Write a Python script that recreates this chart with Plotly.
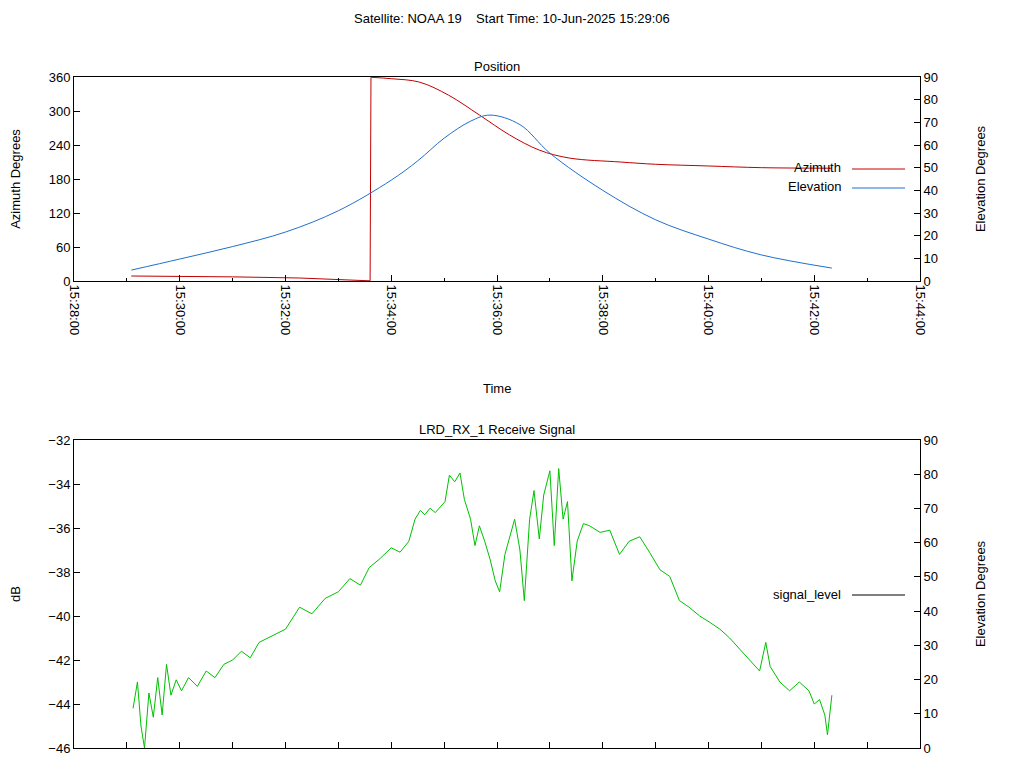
import plotly.graph_objects as go

day = "2025-06-10 "

# position data
az_time = ["15:29:05", "15:30:00", "15:31:00", "15:32:16", "15:33:00", "15:33:36",
           "15:33:37", "15:34:00", "15:34:32", "15:35:05", "15:35:40", "15:36:14",
           "15:36:48", "15:37:22", "15:38:20", "15:39:00", "15:40:00", "15:41:00",
           "15:42:20"]
az_deg = [8.8, 8.2, 7.3, 5.3, 2.5, 0.3,
          359.5, 357, 351, 328, 293, 258,
          231, 217, 210, 206, 203, 200, 199]
az_wrap = 6  # index of the first sample after the 0/360 wrap

el_time = ["15:29:05", "15:30:00", "15:31:00", "15:32:00", "15:33:00", "15:34:00",
           "15:34:30", "15:35:00", "15:35:30", "15:35:52", "15:36:26", "15:37:00",
           "15:38:00", "15:39:00", "15:40:00", "15:41:00", "15:42:20"]
el_deg = [4.8, 9.7, 15.2, 21.6, 31, 44.5,
          53, 63, 70.5, 73.2, 69, 56.4,
          40, 27, 18.5, 11.5, 5.7]

# receive signal data
sig_time = ["15:29:07", "15:29:12", "15:29:16", "15:29:20", "15:29:25", "15:29:30",
            "15:29:35", "15:29:40", "15:29:45", "15:29:50", "15:29:56", "15:30:02",
            "15:30:10", "15:30:20", "15:30:30", "15:30:40", "15:30:50", "15:31:00",
            "15:31:10", "15:31:20", "15:31:30", "15:31:40", "15:31:50", "15:32:00",
            "15:32:16", "15:32:30", "15:32:45", "15:33:00", "15:33:13", "15:33:25",
            "15:33:35", "15:33:47", "15:34:00", "15:34:10", "15:34:20", "15:34:27",
            "15:34:33", "15:34:38", "15:34:44", "15:34:50", "15:35:01", "15:35:06",
            "15:35:12", "15:35:18", "15:35:23", "15:35:30", "15:35:35", "15:35:40",
            "15:35:46", "15:35:52", "15:35:58", "15:36:03", "15:36:09", "15:36:14",
            "15:36:20", "15:36:26", "15:36:31", "15:36:37", "15:36:42", "15:36:48",
            "15:36:53", "15:37:00", "15:37:05", "15:37:10", "15:37:15", "15:37:20",
            "15:37:25", "15:37:31", "15:37:38", "15:37:45", "15:37:57", "15:38:08",
            "15:38:19", "15:38:30", "15:38:42", "15:38:53", "15:39:05", "15:39:16",
            "15:39:27", "15:39:38", "15:39:50", "15:40:02", "15:40:13", "15:40:24",
            "15:40:35", "15:40:46", "15:40:58", "15:41:05", "15:41:10", "15:41:21",
            "15:41:32", "15:41:43", "15:41:54", "15:42:00", "15:42:06", "15:42:12",
            "15:42:15", "15:42:20"]
sig_db = [-44.2, -43.0, -45.0, -46.0, -43.5, -44.6,
          -42.8, -44.5, -42.2, -43.6, -42.9, -43.4,
          -42.8, -43.2, -42.5, -42.8, -42.2, -42.0,
          -41.6, -41.9, -41.2, -41.0, -40.8, -40.6,
          -39.6, -39.9, -39.2, -38.9, -38.3, -38.6,
          -37.8, -37.4, -36.9, -37.1, -36.6, -35.6,
          -35.2, -35.4, -35.1, -35.3, -34.8, -33.6,
          -33.9, -33.5, -34.7, -35.6, -36.8, -35.9,
          -36.6, -37.4, -38.4, -38.9, -37.2, -36.5,
          -35.6, -37.0, -39.3, -35.6, -34.3, -36.5,
          -34.5, -33.4, -36.8, -33.3, -35.6, -34.8,
          -38.4, -36.6, -35.8, -35.9, -36.2, -36.1,
          -37.2, -36.6, -36.4, -37.1, -37.9, -38.2,
          -39.3, -39.6, -40.0, -40.3, -40.6, -41.0,
          -41.5, -42.0, -42.5, -41.2, -42.3, -43.0,
          -43.4, -43.0, -43.4, -44.0, -43.8, -44.5,
          -45.4, -43.6]

# page has an 8px body margin, so the figure is 16px smaller and shifted by 8
W, H, OFF = 1008, 752, 8


def px(x):
    return (x - OFF) / W


def py(y):
    return 1 - (y - OFF) / H


fnt = dict(family="Liberation Sans", size=13, color="black")
xdom = [px(74), px(920)]
top_dom = [py(281), py(77)]
bot_dom = [py(748), py(440)]
xrange = [day + "15:28:00", day + "15:44:00"]
red = "#c00000"

fig = go.Figure()
# azimuth: before wrap, wrap jump, after wrap (smooth)
fig.add_scatter(x=[day + t for t in az_time[:az_wrap]], y=az_deg[:az_wrap], mode="lines",
                line=dict(color=red, width=1), xaxis="x", yaxis="y")
fig.add_scatter(x=[day + t for t in az_time[az_wrap - 1:az_wrap + 1]],
                y=az_deg[az_wrap - 1:az_wrap + 1], mode="lines",
                line=dict(color=red, width=1), xaxis="x", yaxis="y")
fig.add_scatter(x=[day + t for t in az_time[az_wrap:]], y=az_deg[az_wrap:], mode="lines",
                line_shape="spline", line=dict(color=red, width=1), xaxis="x", yaxis="y")
fig.add_scatter(x=[day + t for t in el_time], y=el_deg, mode="lines", line_shape="spline",
                line=dict(color="#1f6fd0", width=1), xaxis="x", yaxis="y2")
fig.add_scatter(x=[day + t for t in sig_time], y=sig_db, mode="lines",
                line=dict(color="#00c000", width=1), xaxis="x2", yaxis="y3")
fig.add_scatter(x=[None], y=[None], xaxis="x2", yaxis="y4")

ax = dict(showline=True, linecolor="black", mirror=True, ticks="inside", showgrid=False,
          zeroline=False, tickfont=fnt, ticklen=6, tickcolor="black", automargin=False)

fig.update_layout(
    width=W, height=H, showlegend=False,
    plot_bgcolor="white", paper_bgcolor="white",
    margin=dict(l=0, r=0, t=0, b=0),
    font=fnt,
    xaxis=dict(ax, domain=xdom, anchor="y", type="date", range=xrange,
               dtick=120000, tickformat="%H:%M:%S", tickangle=90,
               minor=dict(ticks="inside", dtick=60000, ticklen=3, tickcolor="black")),
    yaxis=dict(ax, domain=top_dom, anchor="x", range=[0, 360], dtick=60,
               title=dict(text="Azimuth Degrees", font=fnt, standoff=28)),
    yaxis2=dict(ax, overlaying="y", side="right", anchor="x", range=[0, 90], dtick=10,
                title=dict(text="Elevation Degrees", font=fnt, standoff=38)),
    xaxis2=dict(ax, domain=xdom, anchor="y3", type="date", range=xrange,
                dtick=60000, showticklabels=False),
    yaxis3=dict(ax, domain=bot_dom, anchor="x2", range=[-46, -32], dtick=2,
                title=dict(text="dB", font=fnt, standoff=28)),
    yaxis4=dict(ax, overlaying="y3", side="right", anchor="x2", range=[0, 90], dtick=10,
                title=dict(text="Elevation Degrees", font=fnt, standoff=38)),
)

notes = [
    ("Satellite: NOAA 19    Start Time: 10-Jun-2025 15:29:06", 512, 18, "center"),
    ("Position", 497, 66, "center"),
    ("Time", 497, 388, "center"),
    ("LRD_RX_1 Receive Signal", 497, 429, "center"),
    ("Azimuth", 843, 168, "right"),
    ("Elevation", 843, 187, "right"),
    ("signal_level", 843, 594, "right"),
]
for txt, tx, ty, al in notes:
    fig.add_annotation(text=txt, x=px(tx), y=py(ty), xref="paper", yref="paper",
                       showarrow=False, xanchor=al, yanchor="middle", font=fnt)
for ly, col in [(169, red), (188, "#1f6fd0"), (595, "black")]:
    fig.add_shape(type="line", xref="paper", yref="paper", x0=px(852), x1=px(905),
                  y0=py(ly), y1=py(ly), line=dict(color=col, width=1))

fig.write_html("out.html")
